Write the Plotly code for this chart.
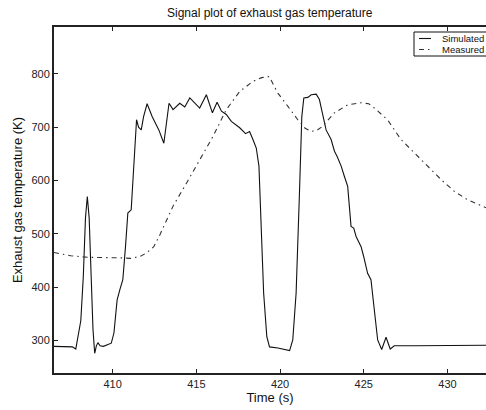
import plotly.graph_objects as go

# Simulated exhaust gas temperature
sim_t = [406.5, 407.0, 407.6, 407.8, 407.95, 408.1, 408.25, 408.38, 408.49, 408.6, 408.72, 408.83, 408.93, 409.03, 409.12, 409.25, 409.45,
         409.68, 409.92, 410.08, 410.27, 410.43, 410.61, 410.77, 410.91, 411.11, 411.27, 411.43, 411.55, 411.71,
         411.85, 412.06, 412.36, 412.76, 413.06, 413.2, 413.37, 413.61, 414.01, 414.31, 414.61, 415.2, 415.6,
         415.96, 416.24, 416.5, 416.79, 417.09, 417.59, 417.94, 418.18, 418.38, 418.58, 418.74, 418.88, 419.02,
         419.21, 419.37, 419.87, 420.57, 420.76, 420.96, 421.16, 421.30, 421.42, 421.66, 421.86, 422.16, 422.35,
         422.55, 422.75, 423.05, 423.25, 423.41, 423.65, 423.84, 424.04, 424.24, 424.40, 424.54, 424.84, 424.99,
         425.23, 425.43, 425.59, 425.83, 426.07, 426.33, 426.58, 426.82, 428.0, 430.0, 432.3]
sim_k = [289, 289, 288, 284, 312, 337, 420, 530, 570, 530, 420, 320, 276, 290, 296, 290, 289,
         292, 295, 314, 376, 395, 414, 476, 539, 545, 639, 714, 700, 695,
         720, 744, 720, 695, 670, 700, 745, 733, 745, 738, 755, 736, 761,
         727, 747, 730, 724, 711, 699, 688, 692, 677, 661, 627, 514, 389,
         307, 288, 286, 281, 301, 389, 577, 720, 755, 756, 761, 762, 752,
         720, 695, 677, 655, 645, 627, 608, 589, 514, 511, 495, 476, 458,
         426, 414, 370, 301, 283, 306, 284, 290, 290, 291, 291]

# Measured exhaust gas temperature
meas_t = [406.5, 407.5, 408.5, 409.5, 410.5, 411.07, 411.67, 412.06, 412.46, 412.82, 413.1, 413.61, 414.41, 415.2,
          416.0, 416.79, 417.59, 418.38, 418.9, 419.35, 419.87, 420.47, 421.06, 421.5, 421.86, 422.2, 422.55,
          423.25, 424.04, 424.84, 425.3, 425.63, 426.42, 427.22, 428.02, 428.81, 429.61, 430.4, 431.19, 432.3]
meas_k = [465, 459, 456, 456, 455, 454, 458, 465, 476, 498, 517, 552, 595, 639,
          683, 733, 767, 786, 793, 795, 764, 739, 714, 698, 692, 694, 702,
          727, 742, 746, 744, 736, 714, 677, 652, 627, 602, 580, 564, 549]

x_ticks = [410, 415, 420, 425, 430]
y_ticks = [300, 400, 500, 600, 700, 800]
series_names = ["Simulated", "Measured"]

FONT = "Liberation Sans, Arial, Helvetica, sans-serif"
SIM_LINE = dict(color="#111111", width=1.1)
MEAS_LINE = dict(color="#333333", width=1.1, dash="5px,4px,1.5px,4px")

fig = go.Figure()
fig.add_trace(go.Scatter(x=sim_t, y=sim_k, mode="lines", name=series_names[0], line=SIM_LINE))
fig.add_trace(go.Scatter(x=meas_t, y=meas_k, mode="lines", name=series_names[1], line=MEAS_LINE))

axis_common = dict(showline=True, linecolor="#222222", linewidth=2, ticks="inside", ticklen=4,
                   tickcolor="#222222", tickwidth=1, showgrid=False, zeroline=False,
                   tickfont=dict(size=11, color="#222222", family=FONT))

W, H = 486, 410
L, R, T, B = 54, 0, 27, 37
pw, ph = W - L - R, H - T - B


def px2paper(x, y):
    return (x - L) / pw, (H - B - y) / ph


# Manual legend box (clipped at the right edge like the reference)
bx0, by0 = px2paper(414, 32)
bx1, by1 = px2paper(495, 56)
shapes = [dict(type="rect", xref="paper", yref="paper", x0=bx0, y0=by1, x1=bx1, y1=by0,
               line=dict(color="#111111", width=1), fillcolor="white", layer="above")]
annotations = []
for i, (name, ln) in enumerate(zip(series_names, [SIM_LINE, MEAS_LINE])):
    yy = 38.5 + 11 * i
    lx0, ly = px2paper(419, yy)
    lx1, _ = px2paper(431, yy)
    shapes.append(dict(type="line", xref="paper", yref="paper", x0=lx0, x1=lx1, y0=ly, y1=ly,
                       line=ln, layer="above"))
    tx, ty = px2paper(440, yy)
    annotations.append(dict(text=name, xref="paper", yref="paper", x=tx, y=ty, xanchor="left",
                            yanchor="middle", showarrow=False,
                            font=dict(size=9.5, color="#111111", family=FONT)))

fig.update_layout(
    width=W, height=H,
    margin=dict(l=L, r=R, t=T, b=B, autoexpand=False),
    paper_bgcolor="white", plot_bgcolor="white",
    title=dict(text="Signal plot of exhaust gas temperature", x=0.555, xanchor="center",
               y=0.968, yanchor="middle", font=dict(size=12, color="#111111", family=FONT)),
    xaxis=dict(range=[406.5, 432.3], tickvals=x_ticks, mirror="ticks",
               title=dict(text="Time (s)", font=dict(size=13, color="#111111", family=FONT), standoff=2),
               **axis_common),
    yaxis=dict(range=[239, 888], tickvals=y_ticks,
               title=dict(text="Exhaust gas temperature (K)", font=dict(size=13, color="#111111", family=FONT), standoff=6),
               **axis_common),
    shapes=shapes,
    annotations=annotations,
    showlegend=False,
    hovermode=False,
)

fig.write_html("out.html", config={"displayModeBar": False, "staticPlot": True},
               post_script="document.body.style.margin='0';document.body.style.overflow='hidden';")
